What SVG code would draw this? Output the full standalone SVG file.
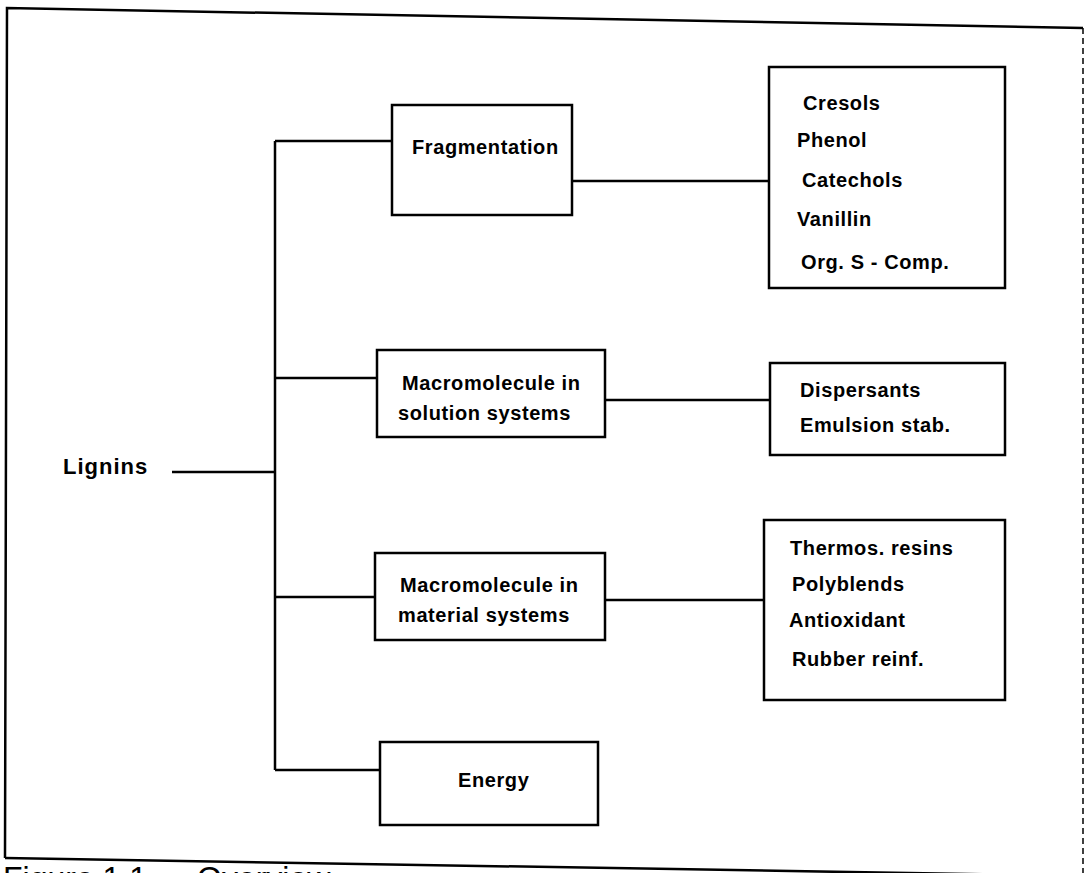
<svg xmlns="http://www.w3.org/2000/svg" width="1088" height="873" viewBox="0 0 1088 873">
<style>
.box{fill:#fff;stroke:#000;stroke-width:2.5}
.ln{stroke:#000;stroke-width:2.5;fill:none}
.t{font-family:"Liberation Sans",Arial,sans-serif;font-weight:bold;font-size:20px;letter-spacing:0.6px;fill:#000}
.cap{font-family:"Liberation Sans",Arial,sans-serif;font-size:32px;fill:#000}
</style>
<rect width="1088" height="873" fill="#fff"/>
<g id="frame">
<path class="ln" d="M5,858 L7,8 L1083,28"/>
<path class="ln" d="M5,858 L1088,876"/>
<path d="M1083,28 L1083,873" stroke="#000" stroke-width="1.5" stroke-dasharray="6,4" fill="none"/>
<text class="cap" x="3" y="889">Figure 1.1<tspan x="197">Overview</tspan></text>
</g>
<g id="connectors">
<path class="ln" d="M172,472 H275"/>
<path class="ln" d="M275,141 V770"/>
<path class="ln" d="M275,141 H392"/>
<path class="ln" d="M275,378 H377"/>
<path class="ln" d="M275,597 H375"/>
<path class="ln" d="M275,770 H380"/>
<path class="ln" d="M572,181 H769"/>
<path class="ln" d="M605,400 H770"/>
<path class="ln" d="M605,600 H764"/>
</g>
<g id="lignins">
<text class="t" x="63" y="474" style="font-size:22px;letter-spacing:1px">Lignins</text>
</g>
<g id="fragmentation">
<rect class="box" x="392" y="105" width="180" height="110"/>
<text class="t" x="412" y="154">Fragmentation</text>
</g>
<g id="solution">
<rect class="box" x="377" y="350" width="228" height="87"/>
<text class="t" x="402" y="390">Macromolecule in</text>
<text class="t" x="398" y="420">solution systems</text>
</g>
<g id="material">
<rect class="box" x="375" y="553" width="230" height="87"/>
<text class="t" x="400" y="592">Macromolecule in</text>
<text class="t" x="398" y="622">material systems</text>
</g>
<g id="energy">
<rect class="box" x="380" y="742" width="218" height="83"/>
<text class="t" x="458" y="787">Energy</text>
</g>
<g id="products-fragmentation">
<rect class="box" x="769" y="67" width="236" height="221"/>
<text class="t" x="803" y="110">Cresols</text>
<text class="t" x="797" y="147">Phenol</text>
<text class="t" x="802" y="187">Catechols</text>
<text class="t" x="797" y="226">Vanillin</text>
<text class="t" x="801" y="269">Org. S - Comp.</text>
</g>
<g id="products-solution">
<rect class="box" x="770" y="363" width="235" height="92"/>
<text class="t" x="800" y="397">Dispersants</text>
<text class="t" x="800" y="432">Emulsion stab.</text>
</g>
<g id="products-material">
<rect class="box" x="764" y="520" width="241" height="180"/>
<text class="t" x="790" y="555">Thermos. resins</text>
<text class="t" x="792" y="591">Polyblends</text>
<text class="t" x="789" y="627">Antioxidant</text>
<text class="t" x="792" y="666">Rubber reinf.</text>
</g>
</svg>
